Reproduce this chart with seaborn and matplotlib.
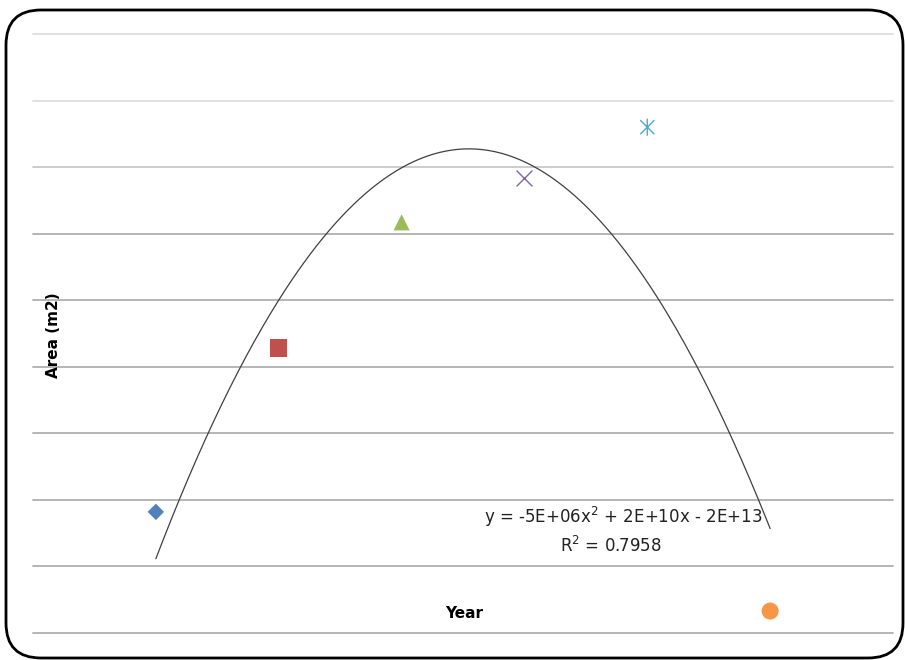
import numpy as np
import matplotlib
matplotlib.use("Agg")
import matplotlib.pyplot as plt
import seaborn as sns
from matplotlib.patches import FancyBboxPatch
from matplotlib.path import Path

# ---------------- DATA ----------------
years = [1990, 1995, 2000, 2005, 2010, 2015]
area = [1.82, 4.28, 6.17, 6.83, 7.60, 0.33]
point_colors = ["#4f81bd", "#c0504d", "#9bbb59", "#8064a2", "#4bacc6", "#f79646"]
equation_text = "y = -5E+06x$^2$ + 2E+10x - 2E+13"
r2_text = "R$^2$ = 0.7958"

# excel style "star" marker: an x with a vertical bar through it
star = Path(
    [(-0.5, -0.5), (0.5, 0.5), (-0.5, 0.5), (0.5, -0.5), (0, -0.6), (0, 0.6)],
    [Path.MOVETO, Path.LINETO, Path.MOVETO, Path.LINETO, Path.MOVETO, Path.LINETO],
)
marker_styles = [
    dict(marker="D", s=70, kind="fill"),
    dict(marker="s", s=160, kind="fill"),
    dict(marker="^", s=135, kind="fill"),
    dict(marker="x", s=130, kind="line"),
    dict(marker=star, s=150, kind="path"),
    dict(marker="o", s=150, kind="fill"),
]

# ---------------- FIGURE ----------------
sns.set_style("white")
plt.rcParams["font.family"] = ["DejaVu Sans"]

fig = plt.figure(figsize=(9.05, 6.6), dpi=100)
ax = fig.add_axes([33 / 905, 27 / 660, 860 / 905, 599 / 660])

for x, y, c, st in zip(years, area, point_colors, marker_styles):
    if st["kind"] == "line":
        sns.scatterplot(x=[x], y=[y], ax=ax, marker=st["marker"], s=st["s"],
                        color=c, linewidth=1.0, legend=False, zorder=3)
    elif st["kind"] == "path":
        sns.scatterplot(x=[x], y=[y], ax=ax, marker=st["marker"], s=st["s"],
                        facecolor="none", edgecolor=c, linewidth=1.0,
                        legend=False, zorder=3)
    else:
        sns.scatterplot(x=[x], y=[y], ax=ax, marker=st["marker"], s=st["s"],
                        color=c, edgecolor="none", linewidth=0,
                        legend=False, zorder=3)

# polynomial trendline (order 2) over the data range
xs = np.array(years, dtype=float)
coef = np.polyfit(xs - 2000, np.array(area), 2)
xx = np.linspace(xs.min(), xs.max(), 300)
sns.lineplot(x=xx, y=np.polyval(coef, xx - 2000), ax=ax, color="#404040",
             linewidth=0.9, zorder=2)

ax.set_xlim(1985, 2020)
ax.set_ylim(0, 9)
ax.set_yticks(range(0, 10))
ax.set_xticks([])
ax.tick_params(length=0, labelleft=False, labelbottom=False)
ax.grid(axis="y", color="#b0b0b0", linewidth=1.3)
ax.set_axisbelow(True)
grid_cols = ["#b0b0b0"] * 7 + ["#c8c8c8", "#dedede", "#dedede"]
for gl, gc in zip(ax.get_ygridlines(), grid_cols):
    gl.set_clip_on(False)
    gl.set_color(gc)
for sp in ax.spines.values():
    sp.set_visible(False)

ax.set_xlabel("Year", fontsize=11, fontweight="bold", color="black")
ax.xaxis.set_label_coords(0.501, 0.045)
ax.set_ylabel("Area (m2)", fontsize=11, fontweight="bold", color="black")
ax.yaxis.set_label_coords(0.0325, 0.497)

ax.text(2009.0, 1.74, equation_text, ha="center", va="center", fontsize=12,
        color="#222222")
ax.text(2008.5, 1.31, r2_text, ha="center", va="center", fontsize=12,
        color="#222222")

# rounded chart border
border = FancyBboxPatch((0.06, 0.02), 8.97, 6.48,
                        boxstyle="round,pad=0,rounding_size=0.35",
                        transform=fig.dpi_scale_trans, fill=False,
                        edgecolor="black", linewidth=2.0)
fig.add_artist(border)

fig.savefig("out.png", dpi=100)
